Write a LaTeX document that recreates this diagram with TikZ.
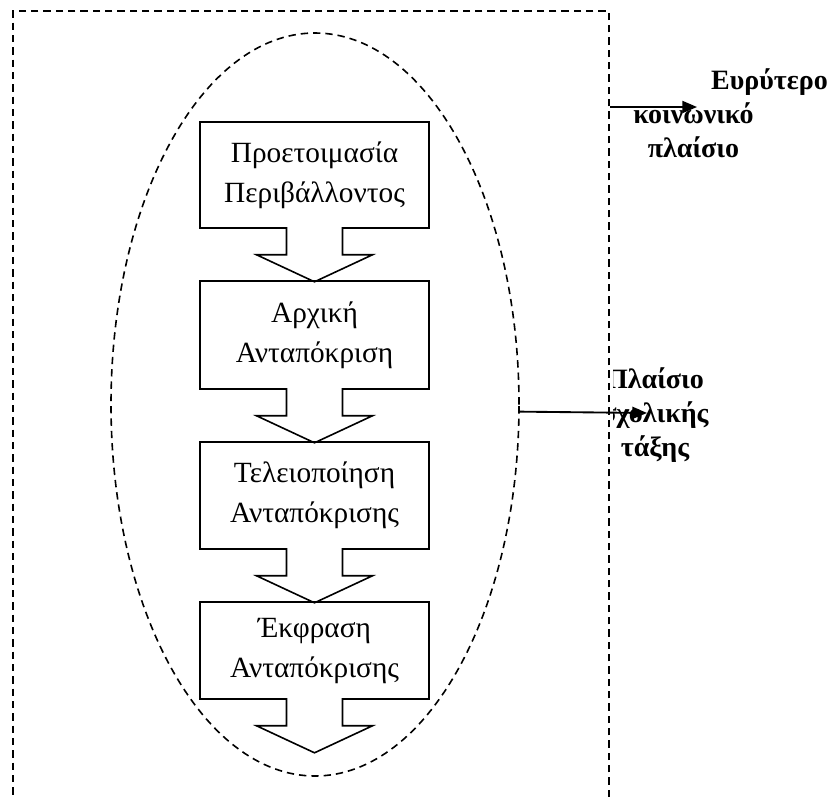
\documentclass[tikz,border=0pt]{standalone}
\usepackage{fontspec}
\setmainfont{Liberation Serif}
\usetikzlibrary{shapes.arrows,shapes.geometric,arrows.meta}

\tikzset{
  stage/.style={draw, line width=1.2pt, arrow box, arrow box arrows={south:39.75pt from border},
    arrow box shaft width=42pt, arrow box head extend=22.5pt, arrow box tip angle=130,
    minimum width=171.75pt, align=center, font=\fontsize{22pt}{30pt}\selectfont},
  sidelabel/.style={align=center, font=\bfseries\fontsize{21pt}{25.5pt}\selectfont},
  frameline/.style={line width=1.2pt, dash pattern=on 5.5pt off 3.75pt}
}

\begin{document}
\begin{tikzpicture}[x=0.75pt, y=-0.75pt, >={Triangle[length=11pt,width=9pt]}]
  \useasboundingbox (0,0) rectangle (834,796);
  \clip (0,0) rectangle (834,796);

  \node[draw, frameline, minimum width=447pt, minimum height=614.25pt] (frame) at (311,420.5) {};
  \node[draw, ellipse, frameline, minimum width=306pt, minimum height=557.25pt] (ell) at (315,404.5) {};

  \node[stage, minimum height=79.5pt] (prep) at (314.5,175) {Προετοιμασία\\Περιβάλλοντος};
  \node[stage, minimum height=81pt] (first) at (314.5,335) {Αρχική\\Ανταπόκριση};
  \node[stage, minimum height=80.25pt] (refine) at (314.5,495.5) {Τελειοποίηση\\Ανταπόκρισης};
  \node[stage, minimum height=72.75pt] (expr) at (314.5,650.5) {Έκφραση\\Ανταπόκρισης};

  \node[sidelabel] (wide) at (693.5,113) {\hspace*{114pt}Ευρύτερο\\κοινωνικό\\πλαίσιο};
  \begin{scope}
    \clip (613,330) rectangle (760,490);
    \node[sidelabel] (class) at (655,415) {Πλαίσιο\\σχολικής\\τάξης};
  \end{scope}

  \coordinate (tipa) at (697,107);
  \coordinate (tipb) at (647,413);
  \draw[->, line width=1.4pt] (frame.east|-tipa) -- (tipa);
  \draw[->, line width=1.4pt] (ell.-2.4) -- (tipb);
\end{tikzpicture}
\end{document}
